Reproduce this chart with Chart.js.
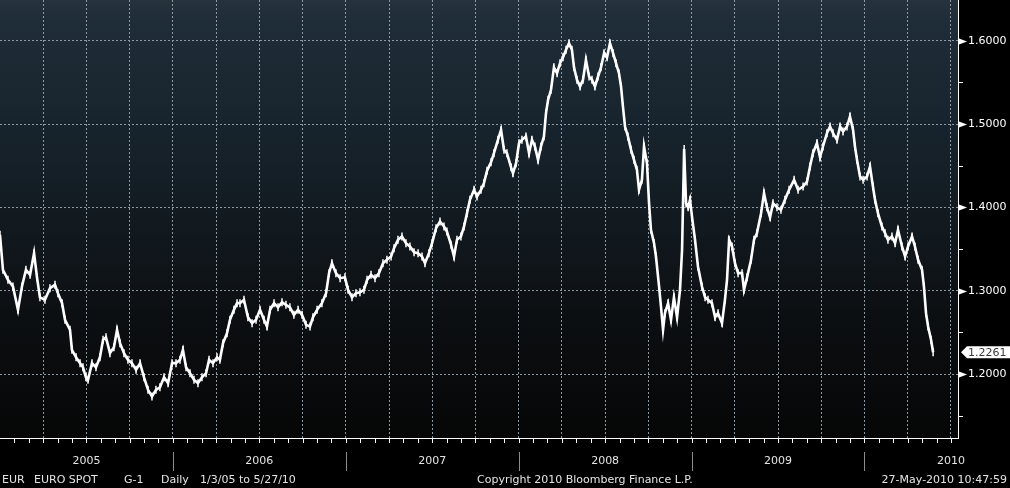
<!DOCTYPE html>
<html>
<head>
<meta charset="utf-8">
<script src="https://cdn.jsdelivr.net/npm/chart.js@4"></script>
<style>
  html, body { margin: 0; padding: 0; background: #000; }
  #wrap { width: 1010px; height: 488px; }
</style>
</head>
<body>
<div id="wrap"><canvas id="myChart" width="1010" height="488"></canvas></div>
<script>
// time as decimal years, price as EUR/USD spot
const dates = [
  2005.000, 2005.017, 2005.046, 2005.075, 2005.104, 2005.127, 2005.150, 2005.174, 2005.197, 2005.214,
  2005.231, 2005.260, 2005.289, 2005.318, 2005.335, 2005.359, 2005.376, 2005.405, 2005.416, 2005.440,
  2005.463, 2005.480, 2005.497, 2005.509, 2005.532, 2005.555, 2005.578, 2005.596, 2005.613, 2005.636,
  2005.659, 2005.677, 2005.694, 2005.717, 2005.740, 2005.763, 2005.787, 2005.810, 2005.833, 2005.856,
  2005.879, 2005.902, 2005.925, 2005.949, 2005.972, 2005.995, 2006.018, 2006.041, 2006.058, 2006.076,
  2006.099, 2006.122, 2006.145, 2006.168, 2006.192, 2006.209, 2006.232, 2006.255, 2006.272, 2006.290,
  2006.313, 2006.330, 2006.353, 2006.371, 2006.388, 2006.411, 2006.434, 2006.458, 2006.481, 2006.504,
  2006.527, 2006.544, 2006.562, 2006.585, 2006.608, 2006.631, 2006.654, 2006.677, 2006.700, 2006.724,
  2006.747, 2006.770, 2006.793, 2006.810, 2006.834, 2006.862, 2006.886, 2006.903, 2006.920, 2006.943,
  2006.967, 2006.995, 2007.013, 2007.036, 2007.059, 2007.082, 2007.105, 2007.123, 2007.146, 2007.169,
  2007.192, 2007.215, 2007.238, 2007.262, 2007.279, 2007.302, 2007.325, 2007.348, 2007.371, 2007.395,
  2007.418, 2007.441, 2007.458, 2007.481, 2007.499, 2007.522, 2007.545, 2007.568, 2007.585, 2007.609,
  2007.626, 2007.643, 2007.666, 2007.684, 2007.701, 2007.718, 2007.742, 2007.759, 2007.782, 2007.799,
  2007.817, 2007.840, 2007.857, 2007.880, 2007.898, 2007.915, 2007.932, 2007.956, 2007.967, 2007.985,
  2008.002, 2008.019, 2008.042, 2008.060, 2008.077, 2008.094, 2008.112, 2008.129, 2008.146, 2008.158,
  2008.170, 2008.187, 2008.204, 2008.222, 2008.239, 2008.256, 2008.274, 2008.291, 2008.308, 2008.320,
  2008.337, 2008.355, 2008.372, 2008.389, 2008.407, 2008.424, 2008.441, 2008.459, 2008.476, 2008.494,
  2008.511, 2008.528, 2008.546, 2008.563, 2008.580, 2008.592, 2008.603, 2008.615, 2008.632, 2008.650,
  2008.667, 2008.684, 2008.696, 2008.713, 2008.725, 2008.742, 2008.754, 2008.765, 2008.783, 2008.794,
  2008.812, 2008.823, 2008.835, 2008.846, 2008.864, 2008.881, 2008.898, 2008.916, 2008.933, 2008.945,
  2008.957, 2008.968, 2008.980, 2008.991, 2009.003, 2009.020, 2009.037, 2009.060, 2009.078, 2009.095,
  2009.118, 2009.136, 2009.153, 2009.176, 2009.193, 2009.205, 2009.217, 2009.234, 2009.251, 2009.269,
  2009.292, 2009.303, 2009.321, 2009.344, 2009.361, 2009.378, 2009.402, 2009.419, 2009.436, 2009.454,
  2009.471, 2009.494, 2009.517, 2009.540, 2009.564, 2009.593, 2009.616, 2009.645, 2009.668, 2009.685,
  2009.702, 2009.725, 2009.743, 2009.760, 2009.783, 2009.801, 2009.818, 2009.841, 2009.859, 2009.876,
  2009.899, 2009.916, 2009.934, 2009.945, 2009.957, 2009.974, 2009.992, 2010.015, 2010.032, 2010.049,
  2010.061, 2010.078, 2010.101, 2010.119, 2010.136, 2010.159, 2010.177, 2010.194, 2010.217, 2010.235,
  2010.252, 2010.275, 2010.292, 2010.310, 2010.333, 2010.344, 2010.356, 2010.368, 2010.385, 2010.397
];

const eurusd = [
  1.367, 1.325, 1.313, 1.305, 1.277, 1.305, 1.325, 1.319, 1.345, 1.316,
  1.292, 1.289, 1.303, 1.307, 1.297, 1.285, 1.265, 1.253, 1.229, 1.220,
  1.213, 1.208, 1.196, 1.193, 1.213, 1.208, 1.220, 1.241, 1.244, 1.225,
  1.232, 1.253, 1.237, 1.225, 1.217, 1.213, 1.205, 1.213, 1.196, 1.181,
  1.173, 1.181, 1.184, 1.196, 1.189, 1.213, 1.213, 1.217, 1.229, 1.208,
  1.201, 1.193, 1.189, 1.196, 1.201, 1.217, 1.213, 1.220, 1.217, 1.237,
  1.249, 1.265, 1.277, 1.285, 1.285, 1.289, 1.268, 1.261, 1.265, 1.277,
  1.265, 1.257, 1.277, 1.285, 1.280, 1.286, 1.283, 1.280, 1.271, 1.277,
  1.271, 1.259, 1.257, 1.268, 1.277, 1.285, 1.297, 1.321, 1.333, 1.321,
  1.315, 1.316, 1.301, 1.292, 1.297, 1.298, 1.301, 1.313, 1.319, 1.315,
  1.321, 1.333, 1.337, 1.341, 1.351, 1.361, 1.365, 1.357, 1.353, 1.346,
  1.345, 1.341, 1.333, 1.345, 1.357, 1.375, 1.383, 1.377, 1.371, 1.355,
  1.341, 1.361, 1.365, 1.377, 1.393, 1.409, 1.421, 1.413, 1.421, 1.429,
  1.444, 1.454, 1.465, 1.481, 1.493, 1.469, 1.465, 1.448, 1.441, 1.453,
  1.477, 1.481, 1.485, 1.465, 1.481, 1.473, 1.457, 1.473, 1.485, 1.513,
  1.529, 1.541, 1.568, 1.561, 1.573, 1.580, 1.589, 1.597, 1.589, 1.568,
  1.553, 1.545, 1.553, 1.577, 1.557, 1.553, 1.545, 1.557, 1.568, 1.585,
  1.580, 1.597, 1.585, 1.573, 1.561, 1.545, 1.521, 1.497, 1.485, 1.469,
  1.457, 1.445, 1.421, 1.433, 1.473, 1.453, 1.405, 1.373, 1.357, 1.341,
  1.305, 1.281, 1.253, 1.273, 1.285, 1.265, 1.292, 1.268, 1.301, 1.349,
  1.470, 1.405, 1.400, 1.409, 1.388, 1.361, 1.329, 1.305, 1.292, 1.289,
  1.285, 1.268, 1.273, 1.261, 1.289, 1.313, 1.361, 1.353, 1.333, 1.321,
  1.321, 1.301, 1.316, 1.337, 1.361, 1.369, 1.393, 1.417, 1.400, 1.388,
  1.405, 1.400, 1.397, 1.409, 1.421, 1.433, 1.421, 1.425, 1.431, 1.449,
  1.465, 1.477, 1.460, 1.473, 1.489, 1.497, 1.489, 1.481, 1.497, 1.491,
  1.497, 1.509, 1.493, 1.473, 1.457, 1.437, 1.433, 1.437, 1.449, 1.425,
  1.409, 1.393, 1.377, 1.369, 1.361, 1.365, 1.357, 1.373, 1.353, 1.341,
  1.353, 1.365, 1.353, 1.337, 1.325, 1.305, 1.273, 1.257, 1.241, 1.226
];

const years = ['2005', '2006', '2007', '2008', '2009', '2010'];
const priceTicks = [1.2, 1.3, 1.4, 1.5, 1.6];
const lastPrice = 1.2261;

const footerLeft = [['EUR', 2], ['EURO SPOT', 34], ['G-1', 124], ['Daily', 161], ['1/3/05 to 5/27/10', 200]];
const footerMid = 'Copyright 2010 Bloomberg Finance L.P.';
const footerRight = '27-May-2010 10:47:59';

const FONT = '"DejaVu Sans", Verdana, sans-serif';

// quarterly grid positions (Apr, Jul, Oct, Jan)
let quarterTicks = [];
for (let y = 2005; y <= 2010; y++) {
    for (let q = 0; q < 4; q++) {
        const v = y + q * 0.25;
        if (v > 2005 && v <= 2010.5) quarterTicks.push(v);
    }
}

const points = dates.map((d, i) => ({x: d, y: eurusd[i]}));

const bloombergDeco = {
    id: 'bloombergDeco',
    beforeDraw(chart) {
        const {ctx, chartArea: a} = chart;
        ctx.save();
        ctx.fillStyle = '#000';
        ctx.fillRect(0, 0, chart.width, chart.height);
        const g = ctx.createLinearGradient(0, a.top, 0, a.bottom);
        g.addColorStop(0, '#26323c');
        g.addColorStop(0.05, '#1f2d38');
        g.addColorStop(0.3, '#17232c');
        g.addColorStop(0.5, '#121a20');
        g.addColorStop(0.72, '#0c0f12');
        g.addColorStop(1, '#060606');
        ctx.fillStyle = g;
        ctx.fillRect(a.left, a.top, a.right - a.left, a.bottom - a.top);
        ctx.restore();
    },
    afterDraw(chart) {
        const {ctx, chartArea: a, scales: {x, y}} = chart;
        ctx.save();
        // axis lines
        ctx.strokeStyle = '#ffffff';
        ctx.lineWidth = 1;
        ctx.beginPath();
        ctx.moveTo(a.left, a.bottom + 0.5);
        ctx.lineTo(a.right + 1, a.bottom + 0.5);
        ctx.moveTo(a.right + 0.5, a.top);
        ctx.lineTo(a.right + 0.5, a.bottom + 1);
        ctx.stroke();

        // monthly tick marks under the time axis
        ctx.beginPath();
        for (let m = 1; m < 67; m++) {
            const px = Math.round(x.getPixelForValue(2005 + m / 12)) + 0.5;
            if (px >= a.right) break;
            ctx.moveTo(px, a.bottom);
            ctx.lineTo(px, a.bottom + 5);
        }
        ctx.stroke();

        // year separators
        ctx.strokeStyle = '#8c8c8c';
        ctx.beginPath();
        years.forEach((yr, i) => {
            if (i === 0) return;
            const px = Math.round(x.getPixelForValue(+yr)) + 0.5;
            ctx.moveTo(px, a.bottom + 14);
            ctx.lineTo(px, a.bottom + 33);
        });
        ctx.stroke();

        // price axis markers
        ctx.fillStyle = '#ffffff';
        ctx.strokeStyle = '#ffffff';
        priceTicks.forEach(v => {
            const py = Math.round(y.getPixelForValue(v)) + 0.5;
            ctx.beginPath();
            ctx.moveTo(a.right + 1, py - 3);
            ctx.lineTo(a.right + 9, py);
            ctx.lineTo(a.right + 1, py + 3);
            ctx.closePath();
            ctx.fill();
            const mid = Math.round(y.getPixelForValue(v - 0.05)) + 0.5;
            ctx.beginPath();
            ctx.moveTo(a.right + 1, mid);
            ctx.lineTo(a.right + 5, mid);
            ctx.stroke();
        });
        const topMid = Math.round(y.getPixelForValue(1.55)) + 0.5;
        ctx.beginPath();
        ctx.moveTo(a.right + 1, topMid);
        ctx.lineTo(a.right + 5, topMid);
        ctx.stroke();

        // last price flag
        const ly = y.getPixelForValue(lastPrice);
        ctx.fillStyle = '#ffffff';
        ctx.beginPath();
        ctx.moveTo(a.right + 3, ly);
        ctx.lineTo(a.right + 9, ly - 6);
        ctx.lineTo(chart.width, ly - 6);
        ctx.lineTo(chart.width, ly + 6);
        ctx.lineTo(a.right + 9, ly + 6);
        ctx.closePath();
        ctx.fill();
        ctx.fillStyle = '#3a3a3a';
        ctx.font = '11px ' + FONT;
        ctx.textBaseline = 'middle';
        ctx.textAlign = 'left';
        ctx.fillText(lastPrice.toFixed(4), a.right + 10, ly + 1);

        // footer
        ctx.fillStyle = '#e4e4e4';
        footerLeft.forEach(([t, px]) => ctx.fillText(t, px, 480));
        ctx.fillText(footerMid, 477, 480);
        ctx.textAlign = 'right';
        ctx.fillText(footerRight, 1007, 480);
        ctx.restore();
    }
};

const ctx = document.getElementById('myChart');
const chartGraphic = new Chart(ctx, {
    type: 'line',
    data: {
        datasets: [
            {
                label: 'EUR Spot',
                data: points,
                borderColor: '#ffffff',
                borderWidth: 2.6,
                pointStyle: 'line',
                pointRotation: 90,
                pointRadius: 4,
                pointBorderWidth: 1.5,
                pointBorderColor: '#ffffff',
                pointBackgroundColor: '#ffffff',
                tension: 0,
            },
        ]
    },
    options: {
        responsive: false,
        animation: false,
        devicePixelRatio: 1,
        layout: {padding: 0, autoPadding: false},
        plugins: {
            legend: {display: false},
            tooltip: {enabled: false},
        },
        scales: {
            x: {
                type: 'linear',
                position: 'bottom',
                min: 2005,
                max: 2010.541,
                afterFit(s) {
                    s.height = 50;
                    s.paddingLeft = 0;
                    s.paddingRight = 0;
                },
                afterBuildTicks(s) { s.ticks = quarterTicks.map(v => ({value: v})); },
                grid: {color: '#8d9aa3', lineWidth: 1, drawTicks: false},
                border: {display: false, dash: [2, 2]},
                ticks: {
                    autoSkip: false,
                    maxRotation: 0,
                    padding: 17,
                    color: '#e4e4e4',
                    font: {family: FONT, size: 11},
                    callback(v) {
                        return Math.abs(v % 1 - 0.5) < 0.001 ? String(Math.floor(v)) : '';
                    }
                }
            },
            y: {
                position: 'right',
                min: 1.1232,
                max: 1.6488,
                afterFit(s) {
                    s.width = 52;
                    s.paddingTop = 0;
                    s.paddingBottom = 0;
                },
                afterBuildTicks(s) { s.ticks = priceTicks.map(v => ({value: v})); },
                grid: {color: '#8d9aa3', lineWidth: 1, drawTicks: false},
                border: {display: false, dash: [2, 2]},
                ticks: {
                    padding: 10,
                    color: '#ffffff',
                    font: {family: FONT, size: 11},
                    callback(v) { return v.toFixed(4); }
                }
            }
        }
    },
    plugins: [bloombergDeco]
});
</script>
</body>
</html>
